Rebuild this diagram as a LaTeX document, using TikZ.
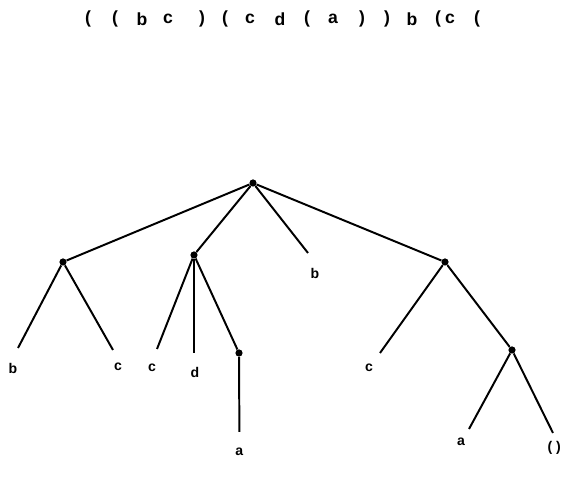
\documentclass[tikz,border=0pt]{standalone}
\usepackage{fontspec}
\setmainfont{Liberation Sans}
\usetikzlibrary{positioning}

\begin{document}
\begin{tikzpicture}[
  every node/.style={font=\small},
  dotnode/.style={circle, fill=black, inner sep=0pt, minimum size=0.18cm},
  leaflabel/.style={inner sep=0pt, font=\fontsize{10}{12}\selectfont\bfseries},
  toklabel/.style={inner sep=0pt, font=\fontsize{12.5}{14}\selectfont\bfseries},
  branch/.style={line width=1.4pt},
]
\useasboundingbox (0,0) rectangle (14.075,12.125);

% Top: the list as written
\foreach \x/\t [count=\i] in {88/{(},115/{(},142/b,168/c,202/{)},225/{(},250/c,280/d,307/{(},333/a,362/{)},387/{)},412/b,438/{(},450/c,477/{(}}
  \node[toklabel] (tok\i) at (\x/40, 11.65) {\t};

% Tree: inner points
\node[dotnode] (root) at (6.325, 7.55) {};
\node[dotnode] (bc) at (1.575, 5.575) {};
\node[dotnode] (cda) at (4.85, 5.75) {};
\node[dotnode] (paren-a) at (5.975, 3.3) {};
\node[dotnode] (cpp) at (11.125, 5.575) {};
\node[dotnode] (pp) at (12.8, 3.375) {};

% Tree: leaf ends
\coordinate (bc-b) at (0.45, 3.425);
\coordinate (bc-c) at (2.825, 3.375);
\coordinate (cda-c) at (3.925, 3.4);
\coordinate (cda-d) at (4.85, 3.3);
\coordinate (paren-a-a) at (5.985, 1.325);
\coordinate (root-b) at (7.7, 5.8);
\coordinate (cpp-c) at (9.5, 3.3);
\coordinate (pp-a) at (11.725, 1.4);
\coordinate (pp-nil) at (13.825, 1.3);

% Leaf labels
\node[leaflabel] (lb1) at (0.325, 2.925) {b};
\node[leaflabel] (lc1) at (2.95, 2.95) {c};
\node[leaflabel] (lc2) at (3.8, 2.925) {c};
\node[leaflabel] (ld) at (4.875, 2.825) {d};
\node[leaflabel] (la1) at (5.985, 0.825) {a};
\node[leaflabel] (lb2) at (7.875, 5.3) {b};
\node[leaflabel] (lc3) at (9.225, 2.925) {c};
\node[leaflabel] (la2) at (11.525, 1.075) {a};
\node[leaflabel, anchor=east] (lnil) at (14.03, 0.925) {( )};

% Branches
\draw[branch] (root) -- (bc);
\draw[branch] (root) -- (cda);
\draw[branch] (root) -- (root-b);
\draw[branch] (root) -- (cpp);
\draw[branch] (bc) -- (bc-b);
\draw[branch] (bc) -- (bc-c);
\draw[branch] (cda) -- (cda-c);
\draw[branch] (cda) -- (cda-d);
\draw[branch] (cda) -- (paren-a);
\draw[branch] (paren-a) -- (paren-a-a);
\draw[branch] (cpp) -- (cpp-c);
\draw[branch] (cpp) -- (pp);
\draw[branch] (pp) -- (pp-a);
\draw[branch] (pp) -- (pp-nil);

\end{tikzpicture}
\end{document}
